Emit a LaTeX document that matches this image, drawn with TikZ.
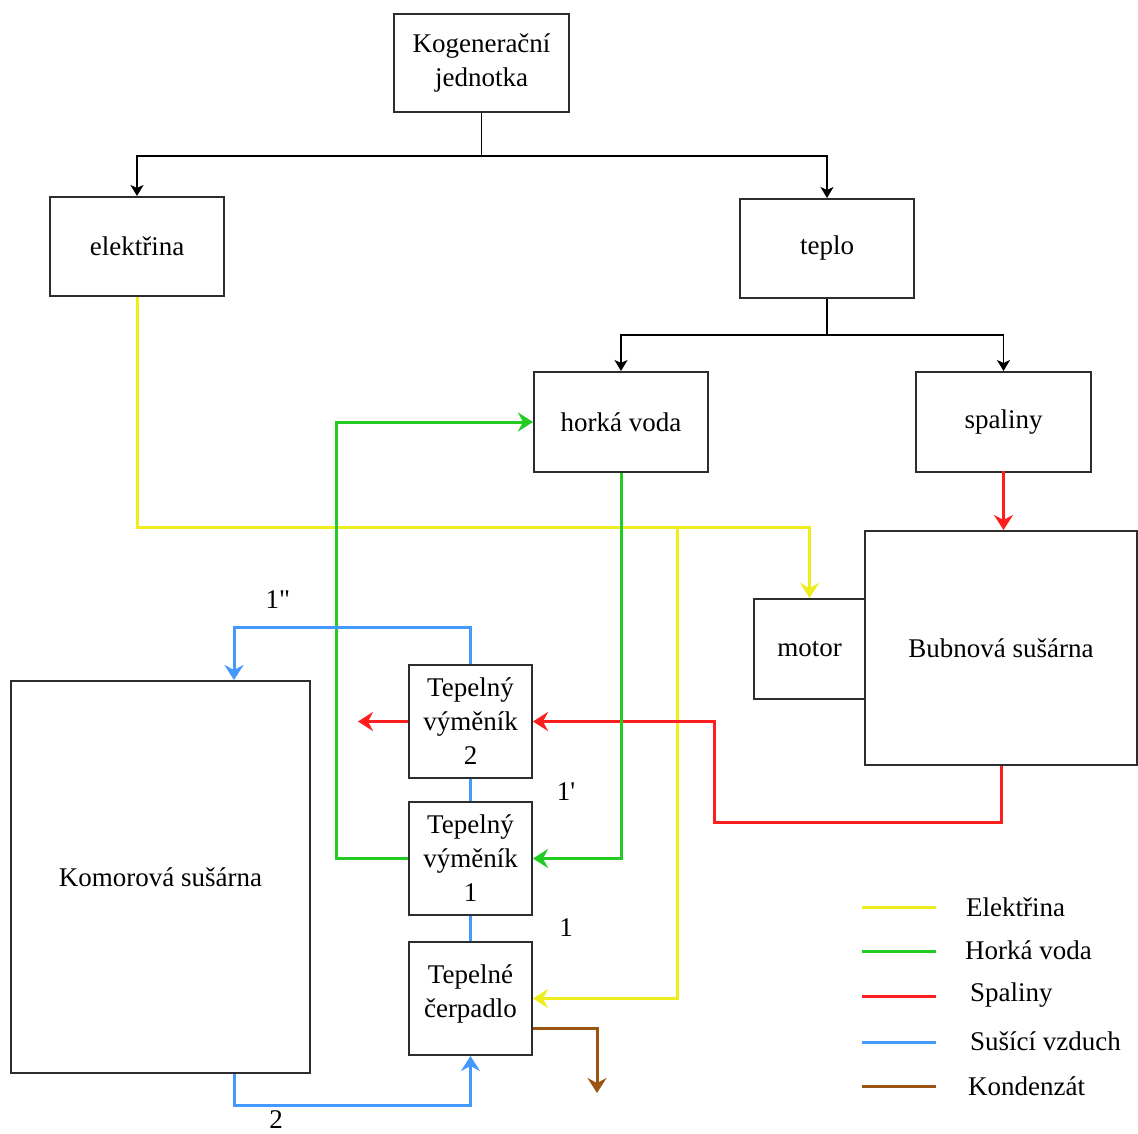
\documentclass[tikz,border=0pt]{standalone}
\usepackage{fontspec}
\setmainfont{Liberation Serif}
\usetikzlibrary{arrows.meta,calc}
\definecolor{cyel}{RGB}{238,238,30}
\definecolor{cgrn}{RGB}{34,204,34}
\definecolor{cred}{RGB}{255,30,30}
\definecolor{cblu}{RGB}{68,153,255}
\definecolor{cbrn}{RGB}{153,85,17}
\definecolor{boxgray}{RGB}{45,45,45}
\begin{document}
\begin{tikzpicture}[x=1pt,y=-1pt,
  box/.style={draw=boxgray, line width=2pt, fill=white, inner sep=0pt,
    font=\fontsize{27}{34}\selectfont, align=center},
  blk/.style={draw=black, line width=1.8pt, -{Stealth[length=11pt,width=13pt,inset=3pt]}},
  flow/.style={line width=3pt, -{Stealth[length=15pt,width=19pt,inset=5pt]}},
  pipe/.style={line width=3pt},
  lbl/.style={font=\fontsize{27}{34}\selectfont, inner sep=0pt},
  leg/.style={font=\fontsize{27}{34}\selectfont, inner sep=0pt, anchor=west}]
\useasboundingbox (0,0) rectangle (1138,1133);
\fill[white] (0,0) rectangle (1138,1133);

% boxes
\node[box, minimum width=175pt, minimum height=98pt] (kog) at (481.5,63) {Kogenerační\\jednotka};
\node[box, minimum width=174pt, minimum height=99pt] (el) at (137,246.5) {elektřina};
\node[box, minimum width=174pt, minimum height=99pt] (tep) at (827,248.5) {teplo};
\node[box, minimum width=174pt, minimum height=100pt] (hv) at (621,422) {horká voda};
\node[box, minimum width=175pt, minimum height=100pt] (spal) at (1003.5,422) {spaliny};
\node[box, minimum width=111pt, minimum height=100pt] (mot) at (809.5,649) {motor};
\node[box, minimum width=272pt, minimum height=234pt] (bub) at (1001,648) {Bubnová sušárna};
\node[box, minimum width=299pt, minimum height=392pt] (kom) at (160.5,877) {Komorová sušárna};
\node[box, minimum width=123pt, minimum height=113pt] (tv2) at (470.5,721.5) {Tepelný\\výměník\\2};
\node[box, minimum width=123pt, minimum height=113pt] (tv1) at (470.5,858.5) {Tepelný\\výměník\\1};
\node[box, minimum width=123pt, minimum height=113pt] (tc) at (470.5,998.5) {};
\node[lbl, align=center] (tct) at (470.5,994) {Tepelné\\čerpadlo};

% black tree
\coordinate (j1) at (481.5,156);
\draw[line width=1.8pt] (kog.south) -- (j1);
\draw[blk] (j1) -| (el.north);
\draw[blk] (j1) -| (tep.north);
\coordinate (j2) at (827,335);
\draw[line width=1.8pt] (tep.south) -- (j2);
\draw[blk] (j2) -| (hv.north);
\draw[blk] (j2) -| (spal.north);

% yellow
\coordinate (y1) at (137,527);
\coordinate (yb) at (677,527);
\draw[flow, cyel] (el.south) -- (y1) -| (mot.north);
\draw[flow, cyel] (yb) |- (tc.east);

% red
\draw[flow, cred] (spal.south |- bub.north) ++(0,-59) -- (spal.south |- bub.north);
\coordinate (r1) at (714,822);
\draw[flow, cred] (bub.south) |- (r1) |- (tv2.east);
\coordinate (rend) at (358,721.5);
\draw[flow, cred] (tv2.west) -- (rend);

% green
\draw[flow, cgrn] (hv.south) |- (tv1.east);
\coordinate (g1) at (336,858.5);
\draw[flow, cgrn] (tv1.west) -- (g1) |- (hv.west);

% blue
\coordinate (b1) at (234,627);
\draw[flow, cblu] (tv2.north) |- (b1) -- (b1 |- kom.north);
\draw[pipe, cblu] (tv2.south) -- (tv1.north);
\draw[pipe, cblu] (tv1.south) -- (tc.north);
\coordinate (b2) at (234,1105);
\draw[flow, cblu] (b2 |- kom.south) -- (b2) -| (tc.south);

% brown
\coordinate (br) at (597,1093);
\draw[flow, cbrn] ($(tc.south east)+(0,-28)$) -| (br);

% labels
\node[lbl] (l1) at (278,600) {1\textquotedbl};
\node[lbl] (l1p) at (566,792) {1\textquotesingle};
\node[lbl] (l1s) at (566,928) {1};
\node[lbl] (l2) at (276,1119.5) {2};

% legend
\coordinate (la1) at (862,907); \coordinate (lb1) at (936,907);
\coordinate (la2) at (862,951); \coordinate (lb2) at (936,951);
\coordinate (la3) at (862,996); \coordinate (lb3) at (936,996);
\coordinate (la4) at (862,1042); \coordinate (lb4) at (936,1042);
\coordinate (la5) at (862,1086); \coordinate (lb5) at (936,1086);
\draw[pipe, cyel] (la1) -- (lb1);
\draw[pipe, cgrn] (la2) -- (lb2);
\draw[pipe, cred] (la3) -- (lb3);
\draw[pipe, cblu] (la4) -- (lb4);
\draw[pipe, cbrn] (la5) -- (lb5);
\node[leg] (t1) at (966,907) {Elektřina};
\node[leg] (t2) at (965,950) {Horká voda};
\node[leg] (t3) at (970,995) {Spaliny};
\node[leg] (t4) at (970,1041) {Sušící vzduch};
\node[leg] (t5) at (968,1086) {Kondenzát};
\end{tikzpicture}
\end{document}
